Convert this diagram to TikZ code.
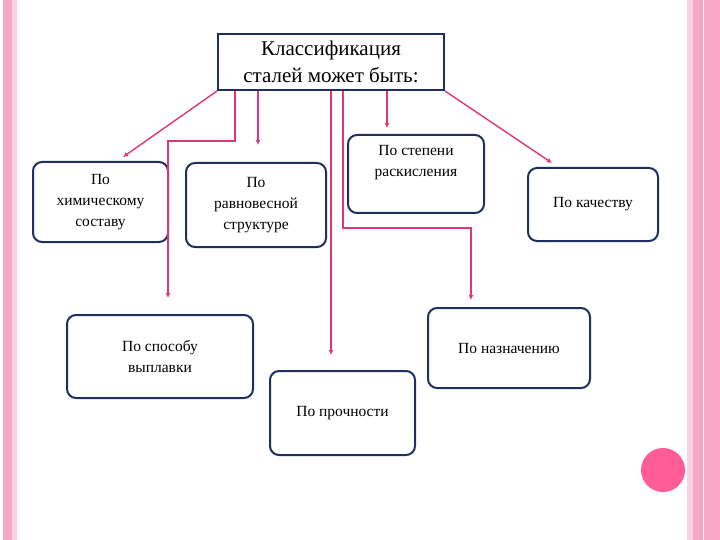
\documentclass[tikz,border=0pt]{standalone}
\usetikzlibrary{arrows.meta}
\usepackage{fontspec}
\setmainfont{Liberation Serif}
\definecolor{navy}{HTML}{1F2F5F}
\definecolor{lk}{HTML}{E0357A}
\definecolor{pk}{HTML}{F4A8C4}
\definecolor{pkl}{HTML}{FAD3E2}
\definecolor{dot}{HTML}{FF5C98}
\begin{document}
\begin{tikzpicture}[x=1pt,y=-1pt,
 box/.style={draw=navy,line width=2pt,rounded corners=9pt,fill=white,align=center,font=\fontsize{15.5}{21}\selectfont,inner sep=0pt},
 conn/.style={draw=lk,line width=1.4pt,-{Latex[length=5pt,width=5pt]}}]
\useasboundingbox (0,0) rectangle (720,540);
\fill[white] (0,0) rectangle (720,540);
\fill[pk] (3,0) rectangle (12,540);
\fill[pkl] (12,0) rectangle (17,540);
\fill[pkl] (687,0) rectangle (693,540);
\fill[pk] (693,0) rectangle (720,540);
\draw[white,line width=1pt] (703,0) -- (703,540);
\fill[dot] (663,470) circle (22);
\node[draw=navy,line width=2pt,fill=white,minimum width=226pt,minimum height=56pt,align=center,font=\fontsize{21}{27}\selectfont,inner sep=0pt] (t) at (331,62) {Классификация\\сталей может быть:};
\node[box,minimum width=135pt,minimum height=80pt] (a) at (100.5,202) {По\\химическому\\составу};
\node[box,minimum width=140pt,minimum height=84pt] (b) at (256,205) {По\\равновесной\\структуре};
\node[box,minimum width=136pt,minimum height=78pt] (c) at (416,174) {По степени\\раскисления\\[6pt]};
\node[box,minimum width=130pt,minimum height=73pt] (d) at (593,204.5) {По качеству};
\node[box,minimum width=186pt,minimum height=83pt] (e) at (160,356.5) {По способу\\выплавки};
\node[box,minimum width=162pt,minimum height=80pt] (f) at (509,348) {По назначению};
\node[box,minimum width=145pt,minimum height=84pt] (g) at (342.5,413) {По прочности};
\coordinate (a1) at (123,157);
\coordinate (e1) at (168,298);
\coordinate (b1) at (258,145);
\coordinate (g1) at (331,355);
\coordinate (f1) at (471,300);
\coordinate (c1) at (387,128);
\coordinate (d1) at (552,163);
\draw[conn] (t.south west) -- (a1);
\draw[conn] ([xshift=18pt]t.south west) -- ++(0,50) -| (e1);
\draw[conn] (t.south west -| b1) -- (b1);
\draw[conn] (t.south -| g1) -- (g1);
\draw[conn] ([xshift=12pt]t.south) -- (343,228) -| (f1);
\draw[conn] (t.south -| c1) -- (c1);
\draw[conn] (t.south east) -- (d1);
\end{tikzpicture}
\end{document}
